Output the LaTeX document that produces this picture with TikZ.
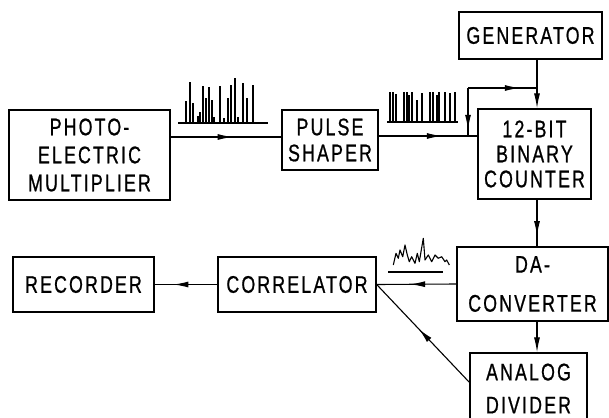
\documentclass[tikz,border=0pt]{standalone}
\usepackage{fontspec}
\setmainfont[FakeStretch=0.74,LetterSpace=9,FakeBold=0.8]{Liberation Sans}
\usetikzlibrary{arrows.meta,decorations.markings,calc}
\begin{document}
\begin{tikzpicture}[x=1pt,y=-1pt,
  box/.style={draw,line width=1.3pt,inner sep=0pt,align=center},
  fs/.style={font=\fontsize{24}{#1}\selectfont},
  conn/.style={line width=1.1pt},
  midtip/.style={postaction={decorate},decoration={markings,mark=at position #1 with {\arrow{Latex[length=15pt,width=6pt]}}}},
  endtip/.style={-{Latex[length=15pt,width=6pt]}},
  spike/.style={line width=1.2pt},
  sig/.style={line width=1.1pt,line join=round}]
\useasboundingbox (0,0) rectangle (609,417);
\clip (0,0) rectangle (609,417);

% boxes
\node[box,fs=28,minimum width=161pt,minimum height=90pt] (photo) at (89.5,155) {PHOTO-\\ELECTRIC\\MULTIPLIER};
\node[box,fs=26,minimum width=96pt,minimum height=60pt] (pulse) at (330,140) {PULSE\\SHAPER};
\node[box,fs=28,minimum width=143pt,minimum height=47pt] (gen) at (530.5,35.5) {GENERATOR};
\node[box,fs=25,minimum width=113pt,minimum height=90pt] (counter) at (534.5,154) {12-BIT\\BINARY\\COUNTER};
\node[box,fs=39,minimum width=151pt,minimum height=74pt] (da) at (532.5,284) {DA-\\CONVERTER};
\node[box,fs=33,minimum width=117pt,minimum height=71pt] (divider) at (528.5,388.5) {ANALOG\\DIVIDER};
\node[box,fs=28,minimum width=158pt,minimum height=55pt] (corr) at (297,284.5) {CORRELATOR};
\node[box,fs=28,minimum width=141pt,minimum height=55pt] (rec) at (83.5,284.5) {RECORDER};

% helper coordinates
\coordinate (vx) at (537,0);
\coordinate (fbtop) at (468,88);
\coordinate (fbjoin) at (468,136);
\coordinate (gjoin) at (537,88);
\coordinate (divin) at (470,383);

% connectors
\draw[conn,midtip=0.56] (photo.east |- 0,137) -- (pulse.west |- 0,137);
\draw[conn,midtip=0.64] (pulse.east |- 0,136) -- (counter.west |- 0,136);
\draw[conn,endtip] (gen.south -| vx) -- (counter.north -| vx);
\draw[conn,midtip=0.87] (fbtop) -- (fbjoin);
\draw[conn,midtip=0.75] (fbtop) -- (gjoin);
\draw[conn,midtip=0.78] (counter.south -| vx) -- (da.north -| vx);
\draw[conn,endtip] (da.south -| vx) -- (divider.north -| vx);
\draw[conn,midtip=0.58] (da.west) -- (corr.east);
\draw[conn,midtip=0.55] (divin) -- (corr.east);
\draw[conn,midtip=0.70] (corr.west) -- (rec.east);

% pulse train 1
\draw[sig] (178,123) -- (268,123);
\foreach \x/\t in {186/101,190/82,193/103,200/112,203/86,206/98,209/87,212/100,220/86,228/98,231/85,235/78,243/83,247/98,253/85}
  \draw[spike] (\x,123) -- (\x,\t);
\foreach \x/\t in {198/116,214/117,224/118,238/117}
  \draw[spike] (\x,123) -- (\x,\t);

% pulse train 2
\draw[sig] (387,122) -- (458,122);
\foreach \x/\t in {390/92,393/92,396/94,404/92,407/92,409/95,412/92,417/100,422/93,430/92,433/92,437/95,439/92,445/92,450/93,455/92}
  \draw[spike] (\x,122) -- (\x,\t);

% analog signal
\draw[sig] (388,272) -- (443,272);
\draw[sig] (393.3,265) -- (396,253.3) -- (398.3,258.3) -- (400,250) -- (402.7,256.7) -- (405,245) -- (407.3,255) -- (409.3,261.7) -- (411.7,256.7) -- (415,263.3) -- (417.3,253.3) -- (419.3,261.7) -- (422.7,241.7) -- (423.3,238.3) -- (425,260) -- (428.3,255) -- (431.7,261.7) -- (435,255) -- (438.3,258.3) -- (441.7,256.7) -- (445,261.7) -- (446.7,260) -- (449.3,265);
\end{tikzpicture}
\end{document}
